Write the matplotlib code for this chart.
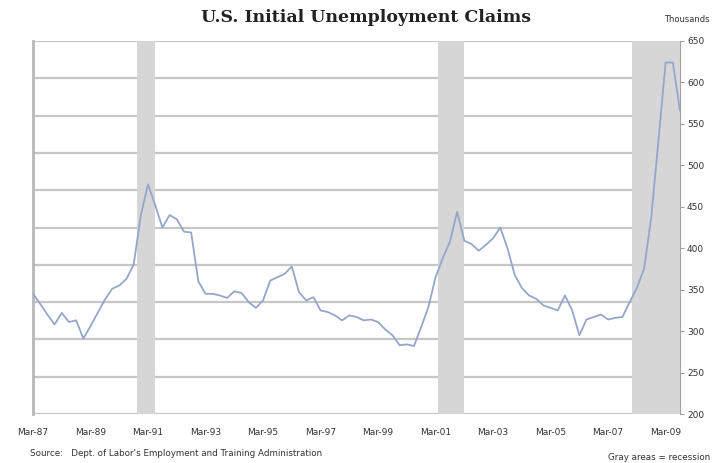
import matplotlib
matplotlib.use('Agg')
import matplotlib.pyplot as plt
import numpy as np

# Quarterly averages, Mar-87 .. Sep-09 (thousands)
claims = [345, 333, 320, 308, 322, 311, 313, 291, 306, 322,
          338, 351, 355, 363, 380, 440, 477, 452, 425, 440,
          435, 420, 419, 360, 345, 345, 343, 340, 348, 346,
          335, 328, 337, 361, 365, 369, 378, 347, 337, 341,
          325, 323, 319, 313, 319, 317, 313, 314, 311, 302,
          295, 283, 284, 282, 305, 329, 365, 388, 408, 444,
          409, 405, 397, 404, 412, 425, 400, 368, 352, 343,
          339, 331, 328, 325, 343, 325, 295, 314, 317, 320,
          314, 316, 317, 335, 352, 375, 437, 530, 624, 624,
          566]
quarter = np.arange(len(claims))

# recession periods, in quarters since Mar-87
recessions = [(14.5, 17.0), (56.3, 59.9), (83.3, 90.0)]

tick_quarters = list(range(0, 89, 8))
tick_labels = ['Mar-87', 'Mar-89', 'Mar-91', 'Mar-93', 'Mar-95', 'Mar-97',
               'Mar-99', 'Mar-01', 'Mar-03', 'Mar-05', 'Mar-07', 'Mar-09']

grid_col = '#c6c6c6'
txt_col = '#333333'

fig = plt.figure(figsize=(7.12, 4.63), dpi=100)
# grid axis (Excel style: 10 divisions, independent from the value scale)
ax = fig.add_axes([33 / 712, 49 / 463, 647 / 712, 373 / 463])
ax.set_xlim(0, len(claims) - 1)
ax.set_ylim(0, 10)
ax.set_yticks(range(11))
ax.yaxis.grid(True, color=grid_col, linewidth=1.6)
ax.set_xticks(tick_quarters)
ax.set_xticklabels(tick_labels, fontsize=6.5, color=txt_col)
ax.tick_params(axis='x', length=0, pad=10)
for side in ['top', 'bottom']:
    ax.spines[side].set_visible(False)
ax.spines['left'].set_color('#b8b8b8')
ax.spines['left'].set_linewidth(2)
ax.spines['right'].set_color('#a0a0a0')
ax.spines['right'].set_linewidth(0.8)

# value axis on the right
ax2 = ax.twinx()
ax.tick_params(axis='y', left=False, right=False, labelleft=False, labelright=False)
ax2.set_xlim(0, len(claims) - 1)
ax2.set_ylim(200, 650)
ax2.set_yticks(range(200, 651, 50))
ax2.tick_params(axis='y', labelsize=6.5, labelcolor=txt_col, length=3,
                color='#a0a0a0', pad=2)
for side in ax2.spines:
    ax2.spines[side].set_visible(False)

for start, end in recessions:
    ax2.axvspan(start, end, color='#d6d6d6', lw=0, zorder=1)
ax2.plot(quarter, claims, color='#93a7cb', linewidth=1.3, zorder=3)

fig.text(366 / 712, 1 - 18 / 463, 'U.S. Initial Unemployment Claims',
         ha='center', va='center', fontsize=12.5, fontweight='bold',
         family='DejaVu Serif', color='#222222')
fig.text(710 / 712, 1 - 20 / 463, 'Thousands', ha='right', va='center',
         fontsize=6, color=txt_col)
fig.text(30 / 712, 1 - 454 / 463,
         'Source:   Dept. of Labor\'s Employment and Training Administration',
         ha='left', va='center', fontsize=6.3, color=txt_col)
fig.text(710 / 712, 1 - 458 / 463, 'Gray areas = recession', ha='right',
         va='center', fontsize=6.3, color=txt_col)

fig.savefig('out.png', dpi=100)
